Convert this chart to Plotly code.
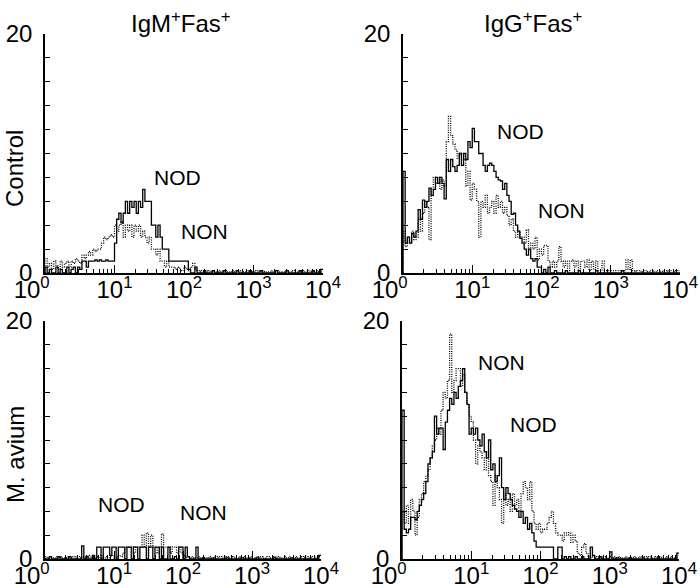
import plotly.graph_objects as go

# ---- data: histogram counts per channel (128 log-spaced channels, 10^0 .. 10^4) ----
CHANNELS_PER_DECADE = 32
N_CHANNELS = 128

panel_titles = ["IgM<sup>+</sup>Fas<sup>+</sup>", "IgG<sup>+</sup>Fas<sup>+</sup>"]
row_labels = ["Control", "M. avium"]
series_names = ["NOD", "NON"]
x_tick_values = [1, 10, 100, 1000, 10000]
x_tick_labels = ["10<sup>0</sup>&nbsp;&nbsp;&nbsp;&nbsp;", "10<sup>1</sup>", "10<sup>2</sup>",
                 "10<sup>3</sup>", "10<sup>4</sup>"]
y_tick_values = [0, 2, 4, 6, 8, 10, 12, 14, 16, 18, 20]
y_tick_labels = ["0", "", "", "", "", "", "", "", "", "", "20"]

# Control, IgM+Fas+
tl_nod = [0.5, 0, 0.3, 0, 0, 0.5, 0, 0.3, 0, 0, 0.5, 0, 0.3, 0.5, 0, 0.5, 0.3,
          1.0, 1.0, 0.5, 1.0, 1.0, 1.0, 1.1, 1.0, 1.1, 1.0, 1.0, 1.1, 1.0, 1.0, 1.0,
          2.5, 4.5, 5.0, 4.2, 5.0, 6.0, 5.0, 6.0, 5.5, 6.0, 5.0, 6.0, 5.5, 7.0, 6.0, 6.0, 6.0,
          4.0, 4.0, 3.0, 4.0, 3.0, 2.0, 2.0, 2.0, 1.0, 1.0, 1.0, 1.0, 1.0, 1.0, 1.0, 1.0, 1.0,
          0.3, 0, 0, 0.5, 0, 0, 0, 0.2, 0, 0, 0, 0.2, 0, 0, 0, 0, 0.2, 0, 0, 0,
          0, 0, 0.2, 0, 0, 0, 0, 0, 0.2, 0, 0, 0, 0, 0.2, 0, 0, 0, 0, 0, 0,
          0.2, 0, 0, 0, 0, 0.2, 0, 0, 0, 0, 0, 0.2, 0, 0, 0, 0, 0, 0.2, 0, 0,
          0, 0.3]
tl_non = [1.2, 0.5, 0.8, 0.3, 1.0, 0.6, 0.3, 1.0, 0.5, 0.8, 1.0, 0.5, 1.0, 0.8, 1.2, 1.0, 0.8,
          1.5, 1.2, 1.5, 1.8, 1.5, 2.0, 1.8, 2.0, 2.0, 2.5, 3.0, 2.8, 3.0, 3.2, 3.0,
          4.0, 3.5, 4.0, 4.3, 3.0, 4.0, 3.5, 4.0, 3.0, 4.0, 3.5, 4.0, 3.0, 3.5, 3.0, 2.5, 3.0,
          2.0, 2.0, 1.5, 2.0, 1.0, 1.0, 0.5, 1.0, 0.5, 0.5, 0.5, 0.3, 0.5, 0.3, 0.2, 0.5, 0.3,
          0.2, 0.5, 0.8, 0.3, 0.2, 0.1, 0.2, 0.1, 0.1, 0.2, 0.1, 0.2, 0.1, 0.1, 0.2, 0.1, 0.1, 0.2, 0.1, 0.1,
          0.2, 0.1, 0.1, 0.1, 0.2, 0.1, 0.1, 0.2, 0.1, 0.1, 0.1, 0.2, 0.1, 0.1, 0.2, 0.1, 0.1, 0.1, 0.2, 0.1,
          0.1, 0.2, 0.1, 0.1, 0.1, 0.2, 0.1, 0.1, 0.2, 0.1, 0.1, 0.1, 0.2, 0.1, 0.1, 0.2, 0.1, 0.1, 0.1, 0.2,
          0.1, 0.3]

# Control, IgG+Fas+
tr_nod = [8.5, 2.5, 3.0, 2.5, 3.3, 3.0, 3.5, 5.3, 4.5, 6.1, 5.5, 6.0, 7.1, 6.5, 7.0,
          8.0, 7.5, 8.0, 7.5, 6.2, 9.5, 8.5, 9.5, 8.9, 8.5, 9.0, 10.0, 9.0, 10.0, 9.5,
          11.0, 10.5, 12.1, 11.0, 11.0, 10.0, 10.0, 9.0, 8.5, 9.0, 9.2, 9.0, 8.5, 8.0, 7.8,
          7.7, 7.0, 7.5, 6.5, 6.0, 4.9, 5.0, 4.0, 3.5, 2.9, 2.5, 2.0, 1.5, 2.0,
          1.2, 1.0, 1.2, 0.5, 0.5, 0,
          0.3, 0, 0.5, 0, 0, 0.2, 0, 0, 0, 0, 0.2, 0, 0, 0, 0, 0, 0.2, 0, 0, 0,
          0, 0, 0, 0, 0.2, 0, 0, 0, 0, 0, 0, 0, 0, 0, 0, 0, 0.2, 0, 0, 0,
          0, 0, 0, 0, 0, 0, 0, 0, 0, 0, 0, 0, 0, 0, 0, 0, 0, 0, 0, 0,
          0, 0, 0]
tr_non = [3.5, 2.2, 3.0, 2.5, 3.5, 2.8, 3.0, 4.5, 3.5, 5.0, 6.0, 5.5, 2.8,
          7.0, 8.0, 7.5, 8.0, 7.0, 7.8, 7.3, 11.0, 13.1, 11.5, 10.8, 10.3, 9.6, 10.0, 9.8,
          9.5, 7.3, 8.5, 6.1, 7.5, 7.0, 6.0, 3.0, 6.0, 5.5, 6.5, 5.0, 5.5, 6.0, 5.0,
          6.5, 5.5, 6.0, 5.0, 5.5, 4.8, 4.0, 4.5, 3.5, 3.0, 3.5, 2.9, 3.0, 2.5, 3.6, 2.1, 2.5,
          2.0, 3.0, 1.1, 2.0, 1.5, 2.3, 2.3, 1.0, 0.5, 1.0, 0.5, 1.0, 2.2,
          1.0, 0.5, 1.0, 0.2, 1.0, 1.1, 0.5, 1.0, 0.2, 1.0, 1.0, 0.5, 1.1, 0.2, 1.0, 0.3,
          1.0, 0.2, 0.2, 1.0, 0.2, 0.2,
          0.2, 0.2, 0.2, 0.2, 0.2, 0.2, 0.2, 0.2, 1.1, 0.3, 1.1,
          0.2, 0.1, 0.2, 0.2, 0.1, 0.2, 0.2, 0.1, 0.2, 0.2, 0.1, 0.2, 0.2, 0.1, 0.2, 0.2,
          0.1, 0.2, 0.2, 0.1, 0.2, 0.2]

# M. avium, IgM+Fas+
bl_nod = [0, 0, 0.2, 0, 0, 0, 0.2, 0, 0, 0, 0, 0.2, 0, 0, 0, 0, 0,
          1.1, 0, 0.2, 0, 0, 0.3, 0,
          1, 1, 0, 1, 1, 1, 0.3, 1, 1, 0, 1, 1, 1, 0, 1,
          1, 0, 1, 1, 0, 1, 1, 1, 0, 1, 1, 0, 1, 1, 0, 1, 0, 0, 1, 0,
          0, 0.2, 0, 1, 1, 0, 1, 0.2, 0, 0, 0, 1.0,
          0, 0, 0.1, 0, 0, 0, 0, 0.1, 0, 0, 0, 0, 0, 0.1, 0, 0, 0, 0, 0, 0,
          0.1, 0, 0, 0, 0, 0, 0, 0.1, 0, 0, 0, 0, 0, 0, 0, 0.1, 0, 0, 0, 0,
          0, 0, 0, 0.1, 0, 0, 0, 0, 0, 0, 0, 0, 0, 0, 0, 0, 0.3]
bl_non = [0.2, 0.1, 0.2, 0.1, 0.1, 0.2, 0.1, 0.2, 0.1, 0.1, 0.2, 0.1, 0.1, 0.2, 0.1, 0.2, 0.1, 0.1,
          0.2, 0.1, 0.3, 0.1, 0.2, 0.1, 0.2, 0.1, 0.3, 0.1, 0.2, 0.1, 0.2, 0.3, 0.1, 0.2, 0.3, 0.2,
          0.5, 1.0, 1.0, 1.0, 1.0, 0.5, 1.0, 1.0, 1.0, 2.0, 1.0, 2.2, 1.0, 2.0, 1.0,
          1.0, 0.5, 1.0, 2.1, 1.0, 1.0, 1.0, 0.5, 1.0, 1.0, 0.5, 1.0, 0.5, 0.3, 0.1, 0.2,
          0.1, 0.2, 0.1, 0.1, 0.2, 0.1, 0.2, 0.1, 0.1, 0.2, 0.1, 0.1, 0.2, 0.1, 0.2, 0.1, 0.1, 0.2, 0.1, 0.1,
          0.2, 0.1, 0.1, 0.2, 0.1, 0.2, 0.1, 0.1, 0.2, 0.1, 0.1, 0.2, 0.1, 0.2, 0.1, 0.1, 0.2, 0.1, 0.1, 0.2,
          0.1, 0.2, 0.1, 0.1, 0.2, 0.1, 0.2, 0.1, 0.1, 0.2, 0.1, 0.1, 0.2, 0.1, 0.2, 0.1, 0.1, 0.2, 0.1, 0.1,
          0.2]

# M. avium, IgG+Fas+
br_nod = [12.5, 2.5, 2.2, 2.5, 3.5, 3.5, 3.3, 4.0, 4.5, 5.0, 5.5, 6.5, 8.0, 8.5, 9.0,
          12.0, 10.5, 11.0, 11.0, 9.2, 11.5, 12.5, 13.5, 13.0, 14.0, 13.5, 14.5, 15.0, 16.0,
          14.0, 13.0, 10.5, 11.0, 10.5, 11.0, 10.0, 9.5, 10.5, 9.0, 8.5, 10.0, 7.5, 8.0,
          6.5, 7.0, 8.5, 6.0, 5.0, 6.0, 5.5, 5.0, 4.5, 4.2, 4.0, 3.5, 4.0, 3.0, 3.5,
          2.5, 3.0, 2.2, 1.5, 1.0, 1.0, 1.0, 1.0, 1.0, 1.0, 1.0, 1.0, 0, 0, 1.0, 1.0, 0,
          0.2, 0, 0.2, 0, 0, 0.2, 0, 0, 0.2, 0, 0, 0, 1.0, 0.3, 0, 0, 0.2, 0, 0, 0, 0, 0.6,
          0, 0, 0.1, 0, 0, 0, 0, 0, 0.1, 0, 0, 0, 0, 0, 0.1, 0, 0, 0, 0, 0, 0, 0.1, 0, 0,
          0, 0, 0, 0, 0, 0, 0.5]
br_non = [4.0, 3.0, 4.5, 3.0, 5.0, 4.0, 2.0, 3.5, 5.0, 5.5, 6.5, 7.0, 7.5, 8.5, 9.5,
          10.0, 11.0, 10.5, 12.5, 14.0, 13.5, 15.0, 18.9, 14.0, 15.0, 16.0,
          16.0, 14.5, 15.5, 14.0, 13.0, 12.0, 11.5, 10.0, 8.0, 9.5, 9.0,
          8.5, 7.5, 9.0, 7.0, 6.5, 4.5, 7.0, 6.0, 5.0, 3.0, 5.5, 4.5, 5.0, 4.0, 5.5,
          4.5, 5.0, 4.0, 5.5, 6.5, 6.0, 5.0, 6.5, 4.0, 3.0, 2.5, 3.0, 2.2, 2.5,
          2.5, 3.0, 3.5, 4.0, 3.0, 2.2, 2.0, 2.0, 1.5, 2.2, 2.0, 2.2, 1.4, 2.0, 1.5,
          0.5, 0.3, 1.0, 1.3, 0.5,
          0.2, 0.1, 0.2, 0.1, 0.2, 0.2, 0.1, 0.2, 0.1, 0.1, 0.2, 0.1, 0.2, 0.1, 0.2, 0.1, 0.1, 0.2, 0.1, 0.2,
          0.1, 0.2, 0.1, 0.1, 0.2, 0.1, 0.2, 0.1, 0.2, 0.1, 0.1, 0.2, 0.1, 0.2, 0.1, 0.1, 0.2, 0.1, 0.2, 0.1,
          0.1, 0.3]

for name, s in [("tl_nod", tl_nod), ("tl_non", tl_non), ("tr_nod", tr_nod), ("tr_non", tr_non),
                ("bl_nod", bl_nod), ("bl_non", bl_non), ("br_nod", br_nod), ("br_non", br_non)]:
    assert len(s) == N_CHANNELS, (name, len(s))

# channel edges on the log scale
edges = [10 ** (i / CHANNELS_PER_DECADE) for i in range(N_CHANNELS + 1)]

def step_xy(vals):
    # leading zero so the first channel rises from the baseline; last value repeated to close the last channel
    return edges[:1] + edges, [0] + list(vals) + [vals[-1]]

W, H = 700, 588
panels = [
    dict(nod=tl_nod, non=tl_non, xd=(45, 323), yd=(34, 273),
         ann=[("NOD", 1.90, 8.0), ("NON", 2.30, 3.5)]),
    dict(nod=tr_nod, non=tr_non, xd=(403, 680), yd=(34, 273),
         ann=[("NOD", 1.69, 11.8), ("NON", 2.29, 5.2)]),
    dict(nod=bl_nod, non=bl_non, xd=(45, 321), yd=(321, 559),
         ann=[("NOD", 1.11, 4.6), ("NON", 2.30, 3.9)]),
    dict(nod=br_nod, non=br_non, xd=(402, 679), yd=(321, 559),
         ann=[("NON", 1.44, 16.5), ("NOD", 1.90, 11.3)]),
]

FONT = "Liberation Sans, Arial, sans-serif"
fig = go.Figure()
annotations = []
minor_vals = [k * 10 ** d for d in range(4) for k in range(2, 10)]

for idx, p in enumerate(panels, start=1):
    sfx = "" if idx == 1 else str(idx)
    xa, ya = "x" + sfx, "y" + sfx
    xs, ys = step_xy(p["non"])
    fig.add_trace(go.Scatter(x=xs, y=ys, mode="lines", line_shape="hv",
                             line=dict(color="black", width=1.3, dash="1px,1.3px"),
                             xaxis=xa, yaxis=ya, showlegend=False, name=series_names[1]))
    xs, ys = step_xy(p["nod"])
    fig.add_trace(go.Scatter(x=xs, y=ys, mode="lines", line_shape="hv",
                             line=dict(color="black", width=1.3),
                             xaxis=xa, yaxis=ya, showlegend=False, name=series_names[0]))
    x0, x1 = p["xd"]
    ytop, ybot = p["yd"]
    fig.layout["xaxis" + sfx] = dict(
        domain=[x0 / W, x1 / W], anchor=ya, type="log", range=[0, 4], automargin=False,
        showline=True, linecolor="black", linewidth=1.6, mirror=False,
        ticks="inside", ticklen=8, tickwidth=1.2, tickcolor="black",
        tickmode="array", tickvals=x_tick_values, ticktext=x_tick_labels,
        ticklabelstandoff=-6,
        minor=dict(tickmode="array", tickvals=minor_vals, ticks="inside", ticklen=4,
                   tickwidth=1, tickcolor="black", showgrid=False),
        showgrid=False, zeroline=False,
        tickfont=dict(family=FONT, size=24, color="black"),
    )
    fig.layout["yaxis" + sfx] = dict(
        domain=[1 - ybot / H, 1 - ytop / H], anchor=xa, range=[0, 20], automargin=False,
        showline=True, linecolor="black", linewidth=1.6,
        ticks="inside", ticklen=5, tickwidth=1.2, tickcolor="black",
        tickmode="array", tickvals=y_tick_values, ticktext=y_tick_labels,
        ticklabelstandoff=6,
        showgrid=False, zeroline=False,
        tickfont=dict(family=FONT, size=24, color="black"),
    )
    for text, lx, ly in p["ann"]:
        annotations.append(dict(text=text, x=lx, y=ly, xref=xa, yref=ya, showarrow=False,
                                font=dict(family=FONT, size=21, color="black"),
                                xanchor="center", yanchor="middle"))

# column titles
for title, cx in zip(panel_titles, [181, 533]):
    annotations.append(dict(text=title, x=cx / W, y=1 - 22 / H, xref="paper", yref="paper",
                            showarrow=False, font=dict(family=FONT, size=24, color="black"),
                            xanchor="center", yanchor="middle"))
# row labels
for label, cy in zip(row_labels, [169, 455]):
    annotations.append(dict(text=label, x=15 / W, y=1 - cy / H, xref="paper", yref="paper",
                            showarrow=False, textangle=-90, font=dict(family=FONT, size=24, color="black"),
                            xanchor="center", yanchor="middle"))

fig.update_layout(template="none", width=W, height=H, margin=dict(l=0, r=0, t=0, b=0, autoexpand=False),
                  paper_bgcolor="white", plot_bgcolor="white", showlegend=False,
                  annotations=annotations, font=dict(family=FONT, color="black"))
fig.write_html("out.html", config={"displayModeBar": False},
               post_script="document.body.style.margin='0px';document.body.style.overflow='hidden';")
